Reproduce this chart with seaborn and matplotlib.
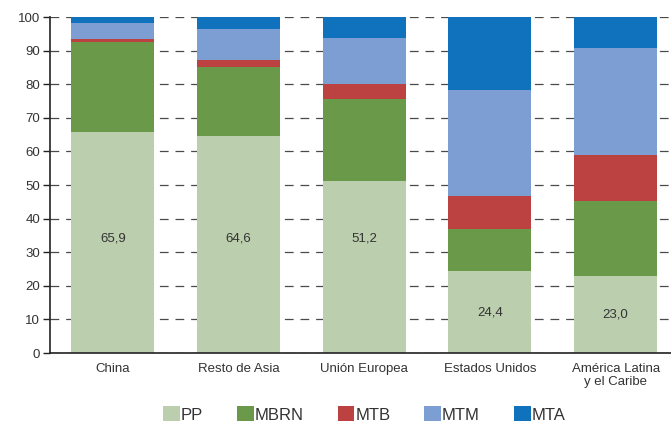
import matplotlib
matplotlib.use("Agg")
import matplotlib.pyplot as plt
import seaborn as sns
import pandas as pd
import numpy as np
from matplotlib.patches import Patch

# --- Data ---
regions = ["China", "Resto de Asia", "Unión Europea", "Estados Unidos",
           "América Latina\ny el Caribe"]
pp = [65.9, 64.6, 51.2, 24.4, 23.0]
mbrn = [26.6, 20.6, 24.3, 12.4, 22.2]
mtb = [1.1, 2.0, 4.5, 9.9, 13.7]
mtm = [4.7, 9.2, 13.8, 31.5, 31.9]
mta = [1.7, 3.6, 6.2, 21.8, 9.2]

series = ["PP", "MBRN", "MTB", "MTM", "MTA"]
colors = ["#BBCEAD", "#6A994A", "#BC4141", "#7C9ED3", "#1072BC"]

df = pd.DataFrame({"region": regions, "PP": pp, "MBRN": mbrn,
                   "MTB": mtb, "MTM": mtm, "MTA": mta})
cum = df[series].cumsum(axis=1)

sns.set_style("white")
plt.rcParams["font.family"] = ["Liberation Sans", "DejaVu Sans"]

fig = plt.figure(figsize=(6.71, 4.25), dpi=100)
ax = fig.add_axes([0.0745, 0.1694, 0.9367, 0.7906])

# stacked bars: draw cumulative totals from the top layer down
for name, color in zip(reversed(series), reversed(colors)):
    sns.barplot(x=df["region"], y=cum[name], color=color, width=0.66,
                saturation=1, edgecolor="none", ax=ax, zorder=2)

# value labels for the PP layer (tall bars get the label at a fixed height)
for i, v in enumerate(pp):
    y = 34 if v > 40 else v / 2
    ax.text(i, y, f"{v:.1f}".replace(".", ","), ha="center",
            va="center", fontsize=9.5, color="#333333", zorder=3)

ax.set_ylim(0, 100)
ax.set_xlim(-0.5, len(regions) - 0.5)
ax.set_yticks(np.arange(0, 101, 10))
ax.yaxis.grid(True, linestyle=(0, (7, 5.5)), color="#4a4a4a", linewidth=0.9, zorder=0)
ax.xaxis.grid(False)
ax.set_axisbelow(True)

ax.set_xlabel("")
ax.set_ylabel("")
ax.set_xticks(range(len(regions)))
ax.set_xticklabels(regions, fontsize=9.5, color="#333333", linespacing=1.15)
ax.set_xticks(np.arange(0.5, len(regions) - 0.5, 1), minor=True)
ax.tick_params(axis="x", which="major", length=0, pad=7)
ax.tick_params(axis="x", which="minor", length=5, width=1, color="#222222", direction="out")
ax.tick_params(axis="y", length=5, width=1, color="#222222", direction="out",
               labelsize=9.5, labelcolor="#333333", pad=2, left=True)

for side in ["top", "right"]:
    ax.spines[side].set_visible(False)
for side in ["left", "bottom"]:
    ax.spines[side].set_color("#222222")
    ax.spines[side].set_linewidth(1.2)

handles = [Patch(facecolor=c, edgecolor="none", label=s) for s, c in zip(series, colors)]
ax.legend(handles=handles, loc="center", bbox_to_anchor=(0.5, -0.183), ncol=5,
          frameon=False, fontsize=12, handlelength=1.0, handleheight=1.0,
          handletextpad=0.05, columnspacing=2.05, labelcolor="#333333",
          borderpad=0.2)

fig.savefig("out.png", dpi=100)
